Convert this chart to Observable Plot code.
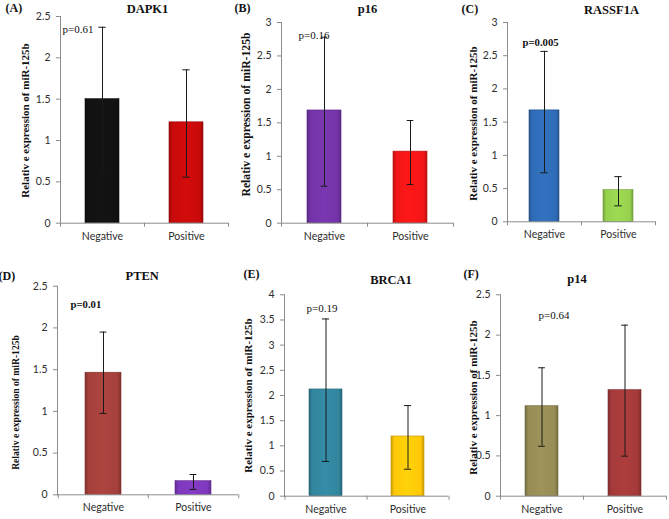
<!DOCTYPE html>
<html><head><meta charset="utf-8">
<script src="https://cdn.jsdelivr.net/npm/d3@7"></script>
<script src="https://cdn.jsdelivr.net/npm/@observablehq/plot@0.6"></script>
<style>
body{margin:0;background:#fff;}
#wrap{position:relative;width:669px;height:519px;overflow:hidden;background:#fff;}
#wrap > svg{position:absolute;}
</style></head><body><div id="wrap"></div>
<script>
// ---- data ----
const groups = ["Negative", "Positive"];
const yLabel = "Relativ e expression of miR-125b";

const titleA = "DAPK1";  const meanA = [1.50, 1.22];  const lowA = [0.63, 0.556]; const highA = [2.37, 1.855]; const pA = "p=0.61";
const titleB = "p16";    const meanB = [1.685, 1.07]; const lowB = [0.553, 0.578]; const highB = [2.78, 1.535]; const pB = "p=0.16";
const titleC = "RASSF1A";const meanC = [1.677, 0.476];const lowC = [0.738, 0.24];  const highC = [2.565, 0.68]; const pC = "p=0.005";
const titleD = "PTEN";   const meanD = [1.463, 0.163];const lowD = [0.975, 0.064]; const highD = [1.95, 0.243]; const pD = "p=0.01";
const titleE = "BRCA1";  const meanE = [2.12, 1.186]; const lowE = [0.69, 0.536];  const highE = [3.52, 1.80];  const pE = "p=0.19";
const titleF = "p14";    const meanF = [1.117, 1.316];const lowF = [0.62, 0.497];  const highF = [1.594, 2.123];const pF = "p=0.64";

const yMax = {A: 2.5, B: 3, C: 3, D: 2.5, E: 4, F: 2.5};

// ---- styles ----
const colorsA = ["#121212", "#c80a0a"];
const colorsB = ["#7434a8", "#f21616"];
const colorsC = ["#2f6cb6", "#96d04e"];
const colorsD = ["#a5403c", "#7e38bc"];
const colorsE = ["#32869e", "#ffc808"];
const colorsF = ["#968c55", "#a53a3a"];

// ---- layout (absolute page pixels) ----
const panels = [
  {id:"A", label:"(A)", title:titleA, mean:meanA, low:lowA, high:highA, p:pA, pBold:false, colors:colorsA,
   L:0, T:0, W:235, H:259, axisX:60, plotRight:228, yTop:16, y0:222.7,
   titleXY:[147,8], labXY:[5,8], pXY:[62,29], ylabXY:[25,120], ylabSize:11},
  {id:"B", label:"(B)", title:titleB, mean:meanB, low:lowB, high:highB, p:pB, pBold:false, colors:colorsB,
   L:223, T:0, W:235, H:259, axisX:281, plotRight:453, yTop:22, y0:222.7,
   titleXY:[367,8], labXY:[234,8], pXY:[298,35], ylabXY:[246,114], ylabSize:11.7},
  {id:"C", label:"(C)", title:titleC, mean:meanC, low:lowC, high:highC, p:pC, pBold:true, colors:colorsC,
   L:446, T:0, W:223, H:259, axisX:507, plotRight:655, yTop:22, y0:221.3,
   titleXY:[611,9], labXY:[461,9], pXY:[522,42], ylabXY:[473,123], ylabSize:11},
  {id:"D", label:"(D)", title:titleD, mean:meanD, low:lowD, high:highD, p:pD, pBold:true, colors:colorsD,
   L:0, T:259, W:240, H:260, axisX:57, plotRight:238, yTop:285.7, y0:494.3,
   titleXY:[141.7,275.7], labXY:[-2,276], pXY:[70,304], ylabXY:[15,402], ylabSize:9.6},
  {id:"E", label:"(E)", title:titleE, mean:meanE, low:lowE, high:highE, p:pE, pBold:false, colors:colorsE,
   L:223, T:259, W:230, H:260, axisX:284, plotRight:448, yTop:294.3, y0:495.7,
   titleXY:[390.5,279], labXY:[243,274], pXY:[306,308], ylabXY:[248,395], ylabSize:11},
  {id:"F", label:"(F)", title:titleF, mean:meanF, low:lowF, high:highF, p:pF, pBold:false, colors:colorsF,
   L:446, T:259, W:223, H:260, axisX:500, plotRight:666, yTop:294.3, y0:495.7,
   titleXY:[576.5,278], labXY:[463,274], pXY:[538,315], ylabXY:[473,397], ylabSize:11}
];

const AXIS = "#8c8c8c";
const SERIF = "'Liberation Serif', 'Times New Roman', serif";

function makePanel(p) {
  const ymax = yMax[p.id];
  const step = (p.plotRight - p.axisX) / 2;
  const bw = step * 0.4;
  const ih = p.y0 - p.yTop;
  const tickLen = 4 / ih * ymax;
  const rows = groups.map((g, i) => ({group: g, mean: p.mean[i], lo: p.low[i], hi: p.high[i]}));
  const ids = p.colors.map((c, i) => `grad${p.id}${i}`);
  const defsMark = () => {
    const g = d3.create("svg:g");
    const defs = g.append("defs");
    p.colors.forEach((c, i) => {
      const base = d3.color(c);
      const lg = defs.append("linearGradient").attr("id", ids[i]).attr("x1", 0).attr("x2", 1).attr("y1", 0).attr("y2", 0);
      [[0, base.darker(0.7)], [0.1, base], [0.5, base.brighter(0.15)], [0.9, base], [1, base.darker(0.7)]]
        .forEach(([o, col]) => lg.append("stop").attr("offset", o).attr("stop-color", col.formatHex()));
    });
    return g.node();
  };
  const capInset = (bw - 7) / 2;
  const ox = p.axisX, oy = p.yTop;
  const chart = Plot.plot({
    width: p.W, height: p.H,
    marginLeft: p.axisX - p.L, marginRight: p.L + p.W - p.plotRight,
    marginTop: p.yTop - p.T, marginBottom: p.T + p.H - p.y0,
    style: {background: "transparent", overflow: "visible", fontFamily: "Lato, 'Open Sans', sans-serif", fontSize: "10.5px", color: "#2e2e2e"},
    x: {domain: groups, paddingInner: 0.6, paddingOuter: 0.3, label: null},
    y: {domain: [0, ymax], label: null},
    marks: [
      defsMark,
      ...rows.map((r, i) => Plot.barY([r], {x: "group", y: "mean", fill: `url(#${ids[i]})`,
        stroke: d3.color(p.colors[i]).darker(0.8).formatHex(), strokeWidth: 0.6})),
      Plot.ruleX(rows, {x: "group", y1: "lo", y2: "hi", stroke: "#1a1a1a", strokeWidth: 1}),
      Plot.tickY(rows, {x: "group", y: "hi", stroke: "#1a1a1a", insetLeft: capInset, insetRight: capInset}),
      Plot.tickY(rows, {x: "group", y: "lo", stroke: "#1a1a1a", insetLeft: capInset, insetRight: capInset}),
      Plot.axisY({ticks: d3.range(0, ymax + 1e-9, 0.5), tickFormat: d3.format("~g"), tickSize: 4, tickPadding: 6, stroke: AXIS, label: null}),
      Plot.axisX({tickSize: 0, tickPadding: 9, label: null}),
      Plot.frame({anchor: "left", stroke: AXIS}),
      Plot.ruleY([0], {stroke: AXIS}),
      Plot.ruleX(groups, {x: d => d, y1: 0, y2: -tickLen, dx: -step / 2, stroke: AXIS}),
      Plot.ruleX([groups[1]], {x: d => d, y1: 0, y2: -tickLen, dx: step / 2, stroke: AXIS}),
      Plot.text([p.title], {text: d => d, frameAnchor: "top-left", dx: p.titleXY[0] - ox, dy: p.titleXY[1] - oy,
        textAnchor: "middle", lineAnchor: "middle", fontFamily: SERIF, fontWeight: "bold", fontSize: 12.5, fill: "#111"}),
      Plot.text([p.label], {text: d => d, frameAnchor: "top-left", dx: p.labXY[0] - ox, dy: p.labXY[1] - oy,
        textAnchor: "start", lineAnchor: "middle", fontFamily: SERIF, fontWeight: "bold", fontSize: 12, fill: "#111"}),
      Plot.text([p.p], {text: d => d, frameAnchor: "top-left", dx: p.pXY[0] - ox, dy: p.pXY[1] - oy,
        textAnchor: "start", lineAnchor: "middle", fontFamily: SERIF, fontWeight: p.pBold ? "bold" : "normal", fontSize: p.pBold ? 10.7 : 11, fill: "#111"}),
      Plot.text([yLabel], {text: d => d, frameAnchor: "left", rotate: -90, dx: p.ylabXY[0] - ox, dy: p.ylabXY[1] - (p.yTop + p.y0) / 2,
        textAnchor: "middle", lineAnchor: "middle", fontFamily: SERIF, fontWeight: "bold", fontSize: p.ylabSize, fill: "#111"})
    ]
  });
  chart.style.left = p.L + "px";
  chart.style.top = p.T + "px";
  return chart;
}

const wrap = document.getElementById("wrap");
panels.forEach(p => wrap.appendChild(makePanel(p)));
</script>
</body></html>
